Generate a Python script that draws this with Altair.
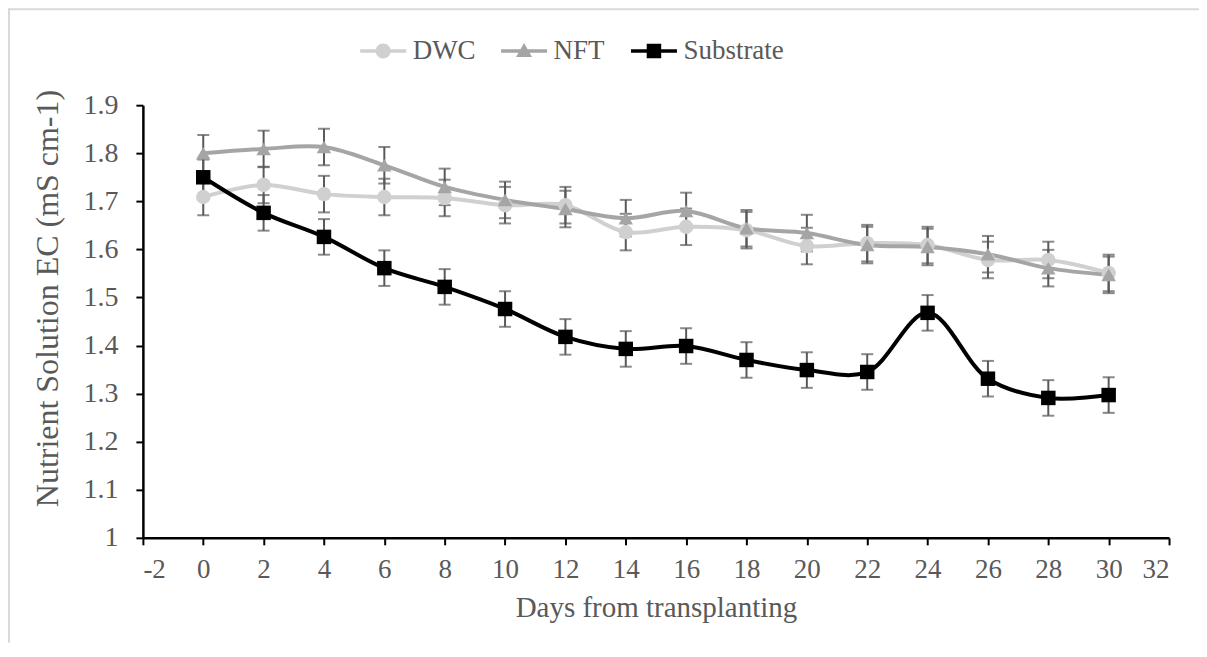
import altair as alt
import pandas as pd

days = [0, 2, 4, 6, 8, 10, 12, 14, 16, 18, 20, 22, 24, 26, 28, 30]
series_names = ["DWC", "NFT", "Substrate"]

dwc = [1.709, 1.734, 1.715, 1.709, 1.707, 1.692, 1.692, 1.636, 1.647, 1.640, 1.607, 1.613, 1.609, 1.578, 1.578, 1.551]
nft = [1.800, 1.809, 1.813, 1.775, 1.730, 1.703, 1.684, 1.665, 1.680, 1.644, 1.634, 1.609, 1.605, 1.590, 1.561, 1.547]
substrate = [1.750, 1.676, 1.626, 1.561, 1.522, 1.476, 1.418, 1.393, 1.399, 1.370, 1.349, 1.345, 1.468, 1.331, 1.291, 1.297]

dwc_err = [0.038] * 16
nft_err = [0.038] * 16
substrate_err = [0.037] * 16

x_ticks = list(range(-2, 33, 2))
y_ticks = [1.0, 1.1, 1.2, 1.3, 1.4, 1.5, 1.6, 1.7, 1.8, 1.9]

colors = ["#d0d0d0", "#a5a5a5", "#000000"]

rows = []
for name, vals, errs in zip(series_names, [dwc, nft, substrate], [dwc_err, nft_err, substrate_err]):
    for d, v, e in zip(days, vals, errs):
        rows.append({"day": d, "value": v, "lo": v - e, "hi": v + e, "series": name})
df = pd.DataFrame(rows)

FONT = "Liberation Serif"
TXT = "#595959"
W, H = 1027, 433
PAD = {"left": 135, "top": 97, "right": 30, "bottom": 105}

x_enc = alt.X("day:Q", scale=alt.Scale(domain=[-2, 32], nice=False, zero=False),
              axis=alt.Axis(values=x_ticks, labelExpr="toString(datum.value)",
                            title="Days from transplanting", grid=False,
                            labelFontSize=27, titleFontSize=29, labelPadding=12, titlePadding=11,
                            tickSize=7, tickWidth=2, domainWidth=2.5, tickColor="black",
                            domainColor="black"))
y_enc = alt.Y("value:Q", scale=alt.Scale(domain=[1, 1.9], nice=False, zero=False),
              axis=alt.Axis(values=y_ticks, format=".2~f", title="Nutrient Solution EC (mS cm-1)",
                            grid=False, labelFontSize=28, titleFontSize=32, labelPadding=18,
                            titlePadding=18, titleY=193, tickSize=7, tickWidth=2, domainWidth=2.5,
                            tickColor="black", domainColor="black"))

color_scale = alt.Scale(domain=series_names, range=colors)

legend_paths = [
    "M-4.6,-0.35H4.6V0.35H-4.6Z M-1.5,0A1.5,1.5,0,1,1,1.5,0A1.5,1.5,0,1,1,-1.5,0Z",
    "M-4.6,-0.35H4.6V0.35H-4.6Z M0,-1.6L1.6,1.2H-1.6Z",
    "M-4.6,-0.35H4.6V0.35H-4.6Z M-1.45,-1.45H1.45V1.45H-1.45Z",
]
leg = alt.Legend(title=None, orient="none", direction="horizontal", legendX=227, legendY=-68,
                 labelFont=FONT, labelFontSize=27, labelColor=TXT, symbolSize=100,
                 labelOffset=16, columnPadding=25, symbolStrokeWidth=0, symbolOpacity=1)

base = alt.Chart(df)

frame_df = pd.DataFrame({"k": [0]})
frame_top = alt.Chart(frame_df).mark_rule(color="#d9d9d9", strokeWidth=2).encode(
    x=alt.value(-135), x2=alt.value(W + PAD["right"]), y=alt.value(-96))
frame_left = alt.Chart(frame_df).mark_rule(color="#d9d9d9", strokeWidth=2).encode(
    x=alt.value(-134), y=alt.value(-97), y2=alt.value(H + PAD["bottom"]))

err_rule = base.mark_rule(color="#595959", strokeWidth=2).encode(
    x=x_enc, y=alt.Y("lo:Q"), y2="hi:Q")
cap_lo = base.mark_tick(color="#595959", thickness=2, size=12, orient="horizontal").encode(
    x=x_enc, y=alt.Y("lo:Q"))
cap_hi = base.mark_tick(color="#595959", thickness=2, size=12, orient="horizontal").encode(
    x=x_enc, y=alt.Y("hi:Q"))

legend_layer = base.transform_filter("false").mark_point(filled=True, size=100).encode(
    x=x_enc, y=y_enc,
    color=alt.Color("series:N", scale=color_scale, legend=leg),
    shape=alt.Shape("series:N", scale=alt.Scale(domain=series_names, range=legend_paths), legend=leg))

lines = base.mark_line(interpolate="catmull-rom", strokeWidth=4).encode(
    x=x_enc, y=y_enc,
    color=alt.Color("series:N", scale=color_scale, legend=leg),
    detail="series:N")

points = base.mark_point(filled=True, opacity=1, size=210).encode(
    x=x_enc, y=y_enc,
    color=alt.Color("series:N", scale=color_scale, legend=leg),
    shape={"condition": [{"test": "datum.series === 'DWC'", "value": "circle"},
                         {"test": "datum.series === 'NFT'", "value": "triangle-up"}],
           "value": "square"})

chart = alt.layer(legend_layer, frame_top, frame_left, err_rule, cap_lo, cap_hi, lines, points).properties(
    width=W, height=H,
    autosize=alt.AutoSizeParams(type="none"),
    padding=PAD,
).configure_axis(
    labelFont=FONT, titleFont=FONT, labelColor=TXT, titleColor=TXT, titleFontWeight="normal"
).configure_view(stroke=None)

chart.save("out.html", embed_options={"renderer": "svg", "actions": False})
